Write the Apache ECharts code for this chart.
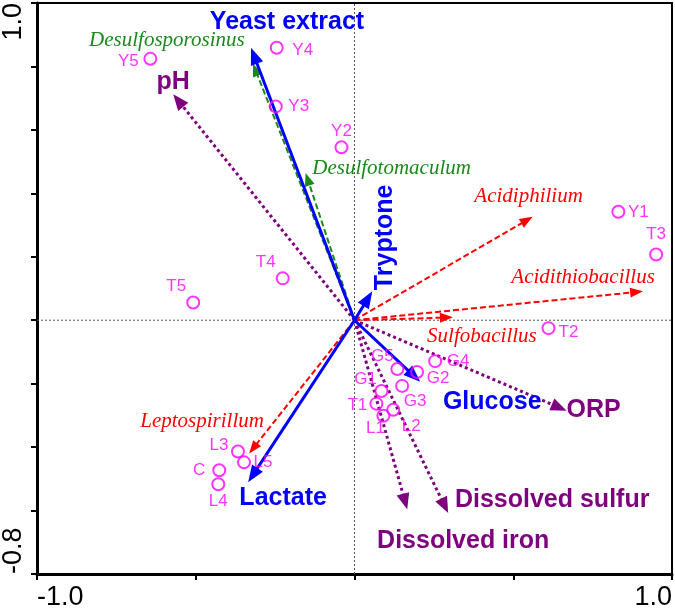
<!DOCTYPE html>
<html><head><meta charset="utf-8">
<script src="https://cdn.jsdelivr.net/npm/echarts@6/dist/echarts.min.js"></script>
<style>html,body{margin:0;padding:0;background:#fff}#c{width:675px;height:611px}</style>
</head><body><div id="c"></div>
<script>
// ---- data ----
const sampleNames = ['Y1','Y2','Y3','Y4','Y5','T1','T2','T3','T4','T5','G1','G2','G3','G4','G5','L1','L2','L3','L4','L5','C'];
const sampleX = [0.831,-0.041,-0.248,-0.245,-0.643,0.069,0.611,0.950,-0.226,-0.508,0.085,0.197,0.150,0.254,0.135,0.091,0.122,-0.367,-0.429,-0.348,-0.426];
const sampleY = [0.342,0.545,0.674,0.859,0.824,-0.263,-0.025,0.207,0.132,0.056,-0.223,-0.163,-0.207,-0.129,-0.154,-0.301,-0.282,-0.414,-0.517,-0.448,-0.473];

const envNames = ['Yeast extract','Tryptone','Glucose','Lactate'];
const envX = [-0.326, 0.056, 0.207, -0.335];
const envY = [0.859, 0.091, -0.194, -0.511];

const physNames = ['pH','ORP','Dissolved sulfur','Dissolved iron'];
const physX = [-0.571, 0.668, 0.295, 0.166];
const physY = [0.712, -0.285, -0.608, -0.596];

const acidNames = ['Acidiphilium','Acidithiobacillus','Sulfobacillus','Leptospirillum'];
const acidX = [0.561, 0.909, 0.310, -0.332];
const acidY = [0.326, 0.091, 0.009, -0.420];

const desulfNames = ['Desulfosporosinus','Desulfotomaculum'];
const desulfX = [-0.320, -0.154];
const desulfY = [0.809, 0.464];

const xTickLabels = ['-1.0','1.0'];
const yTickLabels = ['-0.8','1.0'];

// ---- layout (pixel label offsets) ----
const sampleLabelOffsets = [[20,1],[0,-16],[23,0],[26,3],[-22,2],[-19,2],[20,4],[0,-20],[-17,-16],[-17,-16],
  [-16,-12],[21,6],[13,15],[23,0],[-15,-13],[-8,13],[18,17],[-19,-6],[0,17],[19,0],[-20,0]];
const envLabelOffsets = [[36,-26],[13,-54],[72,20],[35,16]];
const envLabelRot = [0, Math.PI/2, 0, 0];
const physLabelOffsets = [[0,-12],[27,-1],[104,-13],[56,32]];
const acidLabelOffsets = [[-4,-20],[-60,-14],[29,19],[-47,-32]];
const desulfLabelOffsets = [[-86,-23],[86,-5]];

const SANS = "'Liberation Sans', Arial, sans-serif";
const SERIF = "'Liberation Serif', 'Times New Roman', serif";

function arrowSeries(names, xs, ys, st) {
  return {
    type: 'custom',
    coordinateSystem: 'cartesian2d',
    clip: false,
    z: st.z,
    data: names.map((n, i) => [xs[i], ys[i], i]),
    encode: { x: 0, y: 1 },
    renderItem(params, api) {
      const i = api.value(2);
      const o = api.coord([0, 0]);
      const t = api.coord([api.value(0), api.value(1)]);
      const dx = t[0] - o[0], dy = t[1] - o[1];
      const L = Math.hypot(dx, dy);
      const ux = dx / L, uy = dy / L;
      const bx = t[0] - ux * st.headLen, by = t[1] - uy * st.headLen;
      const px = -uy, py = ux, hw = st.headW / 2;
      const off = st.offsets[i];
      return {
        type: 'group',
        children: [
          { type: 'line', shape: { x1: o[0], y1: o[1], x2: bx + ux, y2: by + uy },
            style: { stroke: st.color, lineWidth: st.width, lineDash: st.dash, lineCap: 'butt' } },
          { type: 'polygon', shape: { points: [[t[0], t[1]], [bx + px * hw, by + py * hw], [bx - px * hw, by - py * hw]] },
            style: { fill: st.color } },
          { type: 'text', x: t[0] + off[0], y: t[1] + off[1], rotation: st.rot ? st.rot[i] : 0,
            style: { text: names[i], fill: st.color, fontSize: st.fontSize, fontWeight: st.fontWeight,
              fontStyle: st.fontStyle, fontFamily: st.fontFamily, align: 'center', verticalAlign: 'middle' } }
        ]
      };
    }
  };
}

const chart = echarts.init(document.getElementById('c'), null, { renderer: 'canvas' });
chart.setOption({
  animation: false,
  backgroundColor: '#fff',
  grid: { left: 35, right: 2, top: 2, bottom: 35, show: true, borderColor: '#000', borderWidth: 2, backgroundColor: 'transparent' },
  xAxis: {
    type: 'value', min: -1, max: 1, interval: 0.5,
    axisLine: { show: true, onZero: false, lineStyle: { color: '#000', width: 3 } },
    axisTick: { show: true, length: 6, lineStyle: { color: '#000', width: 2 } },
    splitLine: { show: false },
    axisLabel: {
      margin: 10, fontSize: 27, color: '#000', fontFamily: SANS,
      alignMinLabel: 'left', alignMaxLabel: 'right',
      formatter: v => Math.abs(v + 1) < 1e-6 ? xTickLabels[0] : (Math.abs(v - 1) < 1e-6 ? xTickLabels[1] : '')
    }
  },
  yAxis: {
    type: 'value', min: -0.8, max: 1, interval: 0.2,
    axisLine: { show: true, onZero: false, lineStyle: { color: '#000', width: 3 } },
    axisTick: { show: true, length: 6, lineStyle: { color: '#000', width: 2 } },
    splitLine: { show: false },
    axisLabel: {
      margin: 10, fontSize: 27, color: '#000', fontFamily: SANS, rotate: 90,
      alignMinLabel: 'left', alignMaxLabel: 'right',
      formatter: v => Math.abs(v + 0.8) < 1e-6 ? yTickLabels[0] : (Math.abs(v - 1) < 1e-6 ? yTickLabels[1] : '')
    }
  },
  series: [
    { type: 'line', data: [[-1, 0], [1, 0]], symbol: 'none', silent: true, z: 1,
      lineStyle: { color: '#555', width: 1, type: [2, 2] } },
    { type: 'line', data: [[0, -0.8], [0, 1]], symbol: 'none', silent: true, z: 1,
      lineStyle: { color: '#555', width: 1, type: [2, 2] } },
    arrowSeries(acidNames, acidX, acidY, { color: '#ff0000', width: 2, dash: [6, 3], headLen: 13, headW: 10,
      offsets: acidLabelOffsets, fontSize: 21, fontWeight: 'normal', fontStyle: 'italic', fontFamily: SERIF, z: 3 }),
    arrowSeries(desulfNames, desulfX, desulfY, { color: '#1a8a1a', width: 2, dash: [6, 3], headLen: 13, headW: 10,
      offsets: desulfLabelOffsets, fontSize: 21, fontWeight: 'normal', fontStyle: 'italic', fontFamily: SERIF, z: 3 }),
    arrowSeries(physNames, physX, physY, { color: '#7f007f', width: 3, dash: [3, 3], headLen: 16, headW: 13,
      offsets: physLabelOffsets, fontSize: 25, fontWeight: 'bold', fontStyle: 'normal', fontFamily: SANS, z: 4 }),
    arrowSeries(envNames, envX, envY, { color: '#0000ff', width: 3, dash: null, headLen: 17, headW: 13,
      offsets: envLabelOffsets, rot: envLabelRot, fontSize: 25, fontWeight: 'bold', fontStyle: 'normal', fontFamily: SANS, z: 5 }),
    {
      type: 'scatter', z: 6,
      symbol: 'circle', symbolSize: 12,
      itemStyle: { color: 'rgba(255,255,255,0)', borderColor: '#ff00ff', borderWidth: 2 },
      label: { show: true, position: 'inside', formatter: '{b}', color: '#ff00ff', fontSize: 17, fontFamily: SANS },
      data: sampleNames.map((n, i) => ({ name: n, value: [sampleX[i], sampleY[i]], label: { offset: sampleLabelOffsets[i] } }))
    }
  ]
});
</script>
</body></html>
